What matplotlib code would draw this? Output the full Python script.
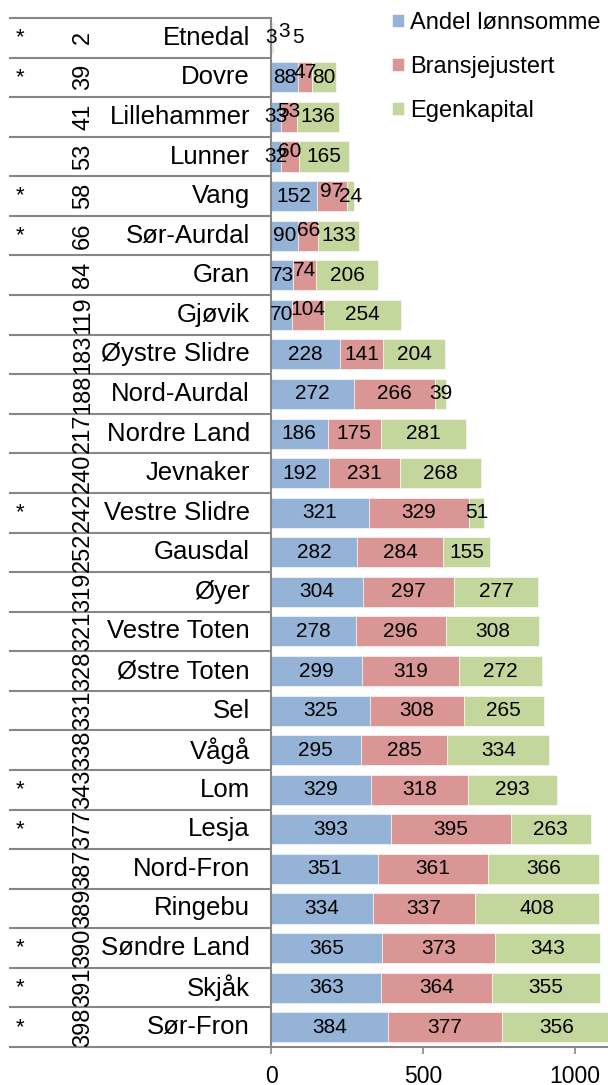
import numpy as np
import matplotlib.pyplot as plt
from matplotlib.transforms import blended_transform_factory

plt.rcParams["font.family"] = ["Liberation Sans", "DejaVu Sans"]

# municipalities, top to bottom
kommuner = ["Etnedal", "Dovre", "Lillehammer", "Lunner", "Vang", "Sør-Aurdal",
            "Gran", "Gjøvik", "Øystre Slidre", "Nord-Aurdal", "Nordre Land",
            "Jevnaker", "Vestre Slidre", "Gausdal", "Øyer", "Vestre Toten",
            "Østre Toten", "Sel", "Vågå", "Lom", "Lesja", "Nord-Fron",
            "Ringebu", "Søndre Land", "Skjåk", "Sør-Fron"]
rang = [2, 39, 41, 53, 58, 66, 84, 119, 183, 188, 217, 240, 242, 252, 319,
        321, 328, 331, 338, 343, 377, 387, 389, 390, 391, 398]
stjerne = ["*", "*", "", "", "*", "*", "", "", "", "", "", "", "*", "", "",
           "", "", "", "", "*", "*", "", "", "*", "*", "*"]

andel = [3, 88, 33, 32, 152, 90, 73, 70, 228, 272, 186, 192, 321, 282, 304,
         278, 299, 325, 295, 329, 393, 351, 334, 365, 363, 384]
bransje = [3, 47, 53, 60, 97, 66, 74, 104, 141, 266, 175, 231, 329, 284, 297,
           296, 319, 308, 285, 318, 395, 361, 337, 373, 364, 377]
egenkap = [5, 80, 136, 165, 24, 133, 206, 254, 204, 39, 281, 268, 51, 155,
           277, 308, 272, 265, 334, 293, 263, 366, 408, 343, 355, 356]

serier = ["Andel lønnsomme", "Bransjejustert", "Egenkapital"]
farger = ["#95B3D7", "#D99694", "#C3D69B"]

# label nudges (pixels) for segments too thin to hold their own label
nudge = {(0, 1): (12, 6), (0, 2): (24, 0)}

fig = plt.figure(figsize=(6.08, 10.85), dpi=100)
ax = fig.add_axes([271 / 608, 1 - 1047 / 1085, 1 - 271 / 608, 1029 / 1085])

y = np.arange(len(kommuner))
left = np.zeros(len(kommuner))
for s, (navn, vals, farge) in enumerate(zip(serier, [andel, bransje, egenkap], farger)):
    vals = np.array(vals, dtype=float)
    ax.barh(y, vals, left=left, height=0.76, color=farge, label=navn,
            edgecolor="white", linewidth=0.4)
    for i, v in enumerate(vals):
        dx, dy = nudge.get((i, s), (0, 0))
        if s == 1 and v < 110 and (i, s) not in nudge:
            dy = 5
        ax.annotate(f"{int(v)}", (left[i] + v / 2, i), xytext=(dx, dy),
                    textcoords="offset pixels", ha="center", va="center",
                    fontsize=15, color="black")
    left += vals

ax.set_xlim(0, 1108)
ax.set_ylim(len(kommuner) - 0.5, -0.5)
ax.set_yticks([])
ax.set_xticks([0, 500, 1000])
ax.tick_params(axis="x", length=5, width=1.2, color="#868686", pad=8,
               labelsize=16.5)
for side in ["top", "right"]:
    ax.spines[side].set_visible(False)
for side in ["left", "bottom"]:
    ax.spines[side].set_color("#868686")
    ax.spines[side].set_linewidth(1.5)

# category table on the left
tr = blended_transform_factory(fig.transFigure, ax.transData)
for b in np.arange(len(kommuner) + 1) - 0.5:
    ax.plot([10 / 608, 271 / 608], [b, b], transform=tr, color="#868686",
            lw=1.5, clip_on=False)
for i in range(len(kommuner)):
    ax.text(20 / 608, i, stjerne[i], transform=tr, ha="center", va="center",
            fontsize=16)
    ax.text(83 / 608, i, str(rang[i]), transform=tr, ha="center", va="center",
            rotation=90, fontsize=17)
    ax.text(250 / 608, i, kommuner[i], transform=tr, ha="right", va="center",
            fontsize=18.5)

fig.legend(loc="upper left", bbox_to_anchor=(392 / 608, 1 - 12 / 1085),
           frameon=False, fontsize=17, handlelength=0.5, handleheight=0.5,
           handletextpad=0.25, labelspacing=0.93, borderaxespad=0,
           borderpad=0)

fig.savefig("out.png", dpi=100)
